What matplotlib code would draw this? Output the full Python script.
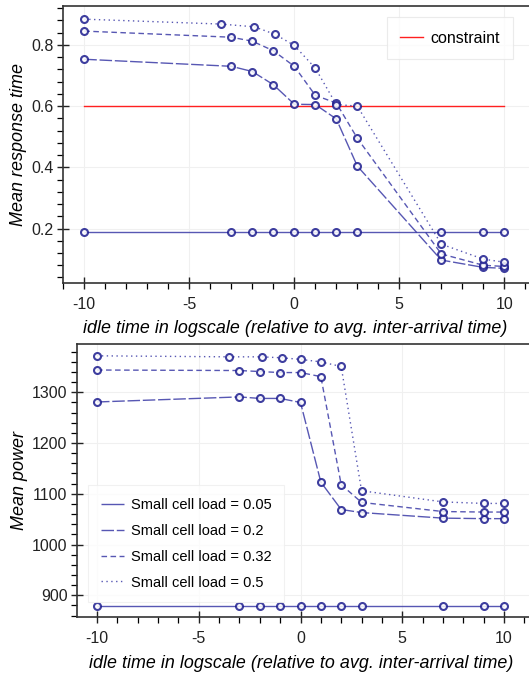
import matplotlib
matplotlib.use("Agg")
import matplotlib.pyplot as plt
from matplotlib.ticker import MultipleLocator

plt.rcParams['font.family'] = ['Liberation Sans', 'DejaVu Sans']
plt.rcParams['axes.unicode_minus'] = False

# Idle time (log scale, relative to mean inter-arrival time)
x_std = [-10, -3, -2, -1, 0, 1, 2, 3, 7, 9, 10]
x_05 = [-10, -3.5, -1.9, -0.9, 0, 1, 2, 3, 7, 9, 10]

loads = ["0.05", "0.2", "0.32", "0.5"]

# Mean response time per small-cell load
resp_005 = [0.188, 0.188, 0.188, 0.188, 0.188, 0.188, 0.188, 0.188, 0.188, 0.188, 0.188]
resp_020 = [0.753, 0.730, 0.713, 0.670, 0.606, 0.605, 0.558, 0.404, 0.097, 0.073, 0.070]
resp_032 = [0.845, 0.825, 0.812, 0.781, 0.730, 0.635, 0.610, 0.495, 0.117, 0.080, 0.076]
resp_050 = [0.884, 0.868, 0.859, 0.834, 0.798, 0.724, 0.605, 0.600, 0.149, 0.100, 0.090]

# Mean power per small-cell load
pow_005 = [879, 879, 879, 879, 879, 879, 879, 879, 879, 879, 879]
pow_020 = [1281, 1291, 1288, 1288, 1280, 1123, 1069, 1063, 1052, 1051, 1051]
pow_032 = [1344, 1343, 1341, 1339, 1339, 1331, 1118, 1083, 1065, 1064, 1064]
pow_050 = [1372, 1370, 1370, 1368, 1365, 1360, 1351, 1106, 1084, 1081, 1081]

constraint_x = [-10, 10]
constraint_y = [0.6, 0.6]

W, H = 529, 677
fig = plt.figure(figsize=(W / 100, H / 100), dpi=100)

line_col = '#3a3aa6'
mark_col = '#1c1c8e'
styles = [
    (0, ()),
    (0, (9, 2)),
    (0, (4, 2.5)),
    (0, (1, 2.5)),
]


def px_axes(left, top, right, bottom):
    return fig.add_axes([left / W, 1 - bottom / H, (right - left) / W, (bottom - top) / H])


def style_axes(ax, ymajor, yminor):
    ax.xaxis.set_major_locator(MultipleLocator(5))
    ax.xaxis.set_minor_locator(MultipleLocator(1))
    ax.yaxis.set_major_locator(MultipleLocator(ymajor))
    ax.yaxis.set_minor_locator(MultipleLocator(yminor))
    ax.tick_params(which='major', direction='inout', length=8, width=1.0,
                   labelsize=11.5, colors='#222222', pad=3)
    ax.tick_params(which='minor', direction='out', length=4, width=0.9)
    ax.tick_params(axis='x', which='major', pad=6)
    ax.grid(True, which='major', color='#f0f0f0', linewidth=0.8)
    ax.set_axisbelow(True)
    for s in ax.spines.values():
        s.set_color('#333333')
        s.set_linewidth(1.2)


def draw_series(ax, ys, with_label):
    xs = [x_std, x_std, x_std, x_05]
    for i, (xv, yv) in enumerate(zip(xs, ys)):
        ax.plot(xv, yv, color=line_col, linewidth=1.0, linestyle=styles[i], alpha=0.85,
                marker='o', markersize=5, markerfacecolor='white',
                markeredgecolor=mark_col, markeredgewidth=1.5,
                label=f"Small cell load = {loads[i]}" if with_label else None, zorder=3)


xlabel_text = 'idle time in logscale (relative to avg. inter-arrival time)'

# Upper panel: response time
ax1 = px_axes(63.3, 6, 545, 282.7)
ax1.set_xlim(-11, -10 + (545 - 84.3) / 21.0)
ax1.set_ylim(0.023, 0.927)
style_axes(ax1, 0.2, 0.04)
draw_series(ax1, [resp_005, resp_020, resp_032, resp_050], False)
ax1.plot(constraint_x, constraint_y, color='#ff2020', linewidth=1.0, label='constraint', zorder=2)
ax1.set_ylabel('Mean response time', fontsize=13, style='italic', labelpad=3)
ax1.set_xlabel(xlabel_text, fontsize=12.9, style='italic', labelpad=6)
ax1.xaxis.set_label_coords(0.481, -0.135)
ax1.set_xticks([-10, -5, 0, 5, 10])
ax1.set_yticks([0.2, 0.4, 0.6, 0.8])
leg1 = ax1.legend(loc='upper right', bbox_to_anchor=(513 / W, 1 - 17 / H),
                  bbox_transform=fig.transFigure, fontsize=11.5, frameon=True,
                  fancybox=False, borderaxespad=0, handlelength=1.4, handletextpad=0.45,
                  borderpad=0.85)
leg1.get_frame().set_edgecolor('#e6e6e6')
leg1.get_frame().set_linewidth(0.8)

# Lower panel: power
ax2 = px_axes(77.3, 344, 545, 617.3)
ax2.set_xlim(-10 - (97 - 77.3) / 20.35, -10 + (545 - 97) / 20.35)
ax2.set_ylim(856.5, 1395.3)
style_axes(ax2, 100, 20)
draw_series(ax2, [pow_005, pow_020, pow_032, pow_050], True)
ax2.set_ylabel('Mean power', fontsize=13, style='italic', labelpad=3)
ax2.set_xlabel(xlabel_text, fontsize=12.9, style='italic', labelpad=6)
ax2.xaxis.set_label_coords(0.479, -0.137)
ax2.set_xticks([-10, -5, 0, 5, 10])
ax2.set_yticks([900, 1000, 1100, 1200, 1300])
leg2 = ax2.legend(loc='upper left', bbox_to_anchor=(88 / W, 1 - 485 / H),
                  bbox_transform=fig.transFigure, fontsize=10.5, frameon=True,
                  fancybox=False, borderaxespad=0, handlelength=1.6, handletextpad=0.45,
                  labelspacing=0.82, borderpad=0.87)
leg2.get_frame().set_edgecolor('#eeeeee')
leg2.get_frame().set_linewidth(0.8)
for h in leg2.legend_handles:
    h.set_marker('')

fig.savefig('out.png', dpi=100, facecolor='white')
